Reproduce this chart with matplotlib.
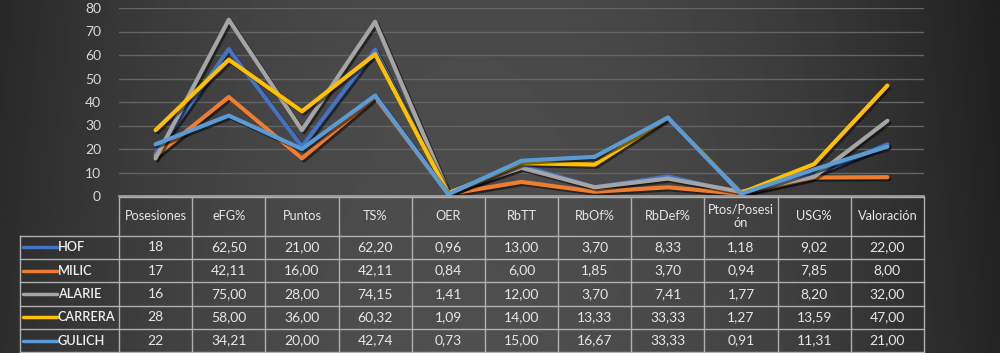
import numpy as np
import matplotlib
matplotlib.use('Agg')
from matplotlib import pyplot as plt
import matplotlib.patheffects as pe

plt.rcParams['font.family'] = ['Lato', 'DejaVu Sans']

# stats per player
categories = ['Posesiones', 'eFG%', 'Puntos', 'TS%', 'OER', 'RbTT', 'RbOf%',
              'RbDef%', 'Ptos/Posesi\nón', 'USG%', 'Valoración']
players = ['HOF', 'MILIC', 'ALARIE', 'CARRERA', 'GULICH']
hof = [18, 62.50, 21.00, 62.20, 0.96, 13.00, 3.70, 8.33, 1.18, 9.02, 22.00]
milic = [17, 42.11, 16.00, 42.11, 0.84, 6.00, 1.85, 3.70, 0.94, 7.85, 8.00]
alarie = [16, 75.00, 28.00, 74.15, 1.41, 12.00, 3.70, 7.41, 1.77, 8.20, 32.00]
carrera = [28, 58.00, 36.00, 60.32, 1.09, 14.00, 13.33, 33.33, 1.27, 13.59, 47.00]
gulich = [22, 34.21, 20.00, 42.74, 0.73, 15.00, 16.67, 33.33, 0.91, 11.31, 21.00]
series = [hof, milic, alarie, carrera, gulich]
colors = ['#4472C4', '#ED7D31', '#A5A5A5', '#FFC000', '#5B9BD5']
yticks = [0, 10, 20, 30, 40, 50, 60, 70, 80]

W, H = 1000, 353
fig = plt.figure(figsize=(10, 3.53), dpi=100)

# dark vignette background
bg = fig.add_axes([0, 0, 1, 1])
xx = np.linspace(0, 1, 400)
yy = np.linspace(0, 1, 150)
X, Y = np.meshgrid(xx, yy)
shade = 0.31 - 0.6 * (X - 0.47) ** 2 - 0.02 * Y
bg.imshow(np.clip(shade, 0.1, 1), cmap='gray', vmin=0, vmax=1,
          aspect='auto', extent=[0, 1, 0, 1], origin='lower')
bg.axis('off')

# line chart
left, right = 119 / W, 924 / W
ax = fig.add_axes([left, 1 - 196 / H, right - left, (196 - 8) / H])
ax.set_facecolor('none')
x = np.arange(len(categories))
for vals, c in zip(series, colors):
    ax.plot(x, vals, color=c, lw=3, solid_capstyle='round',
            path_effects=[pe.SimpleLineShadow(offset=(1.5, -1.5), alpha=0.5),
                          pe.Normal()])
ax.set_xlim(-0.5, len(categories) - 0.5)
ax.set_ylim(0, 80)
ax.set_yticks(yticks)
ax.set_xticks([])
ax.tick_params(axis='y', length=0, colors='#d8d8d8', labelsize=10, pad=13)
ax.grid(axis='y', color='#646464', lw=1)
ax.set_axisbelow(True)
for s in ['top', 'right', 'left']:
    ax.spines[s].set_visible(False)
ax.spines['bottom'].set_color('#a8a8a8')
ax.spines['bottom'].set_linewidth(1.2)

# data table, coordinates in pixels
tx0 = 20
colw = (924 - 119) / len(categories)
tax = fig.add_axes([0, 0, 1, 1])
tax.set_xlim(0, W)
tax.set_ylim(H, 0)
tax.axis('off')
head_top, head_bot, row_h = 196.7, 235.7, 23.3
line_c = '#b0b0b0'
txt_c = '#e6e6e6'
bottom = head_bot + row_h * len(players)
# horizontal lines
tax.plot([119, 924], [head_top, head_top], color=line_c, lw=1)
for i in range(len(players) + 1):
    yv = head_bot + i * row_h
    tax.plot([tx0, 924], [yv, yv], color=line_c, lw=1)
# vertical lines
tax.plot([tx0, tx0], [head_bot, bottom], color=line_c, lw=1)
for j in range(len(categories) + 1):
    xv = 119 + j * colw
    tax.plot([xv, xv], [head_top, bottom], color=line_c, lw=1)
# header
for j, cat in enumerate(categories):
    tax.text(119 + (j + 0.5) * colw, (head_top + head_bot) / 2, cat,
             ha='center', va='center', color=txt_c, fontsize=9.2,
             linespacing=1.1)
# rows
for i, (name, vals, c) in enumerate(zip(players, series, colors)):
    yc = head_bot + (i + 0.5) * row_h
    tax.plot([23, 57], [yc, yc], color=c, lw=2.5, solid_capstyle='round')
    tax.text(58, yc, name, ha='left', va='center', color='#f0f0f0',
             fontsize=9.2, fontweight='semibold')
    for j, v in enumerate(vals):
        s = str(int(v)) if j == 0 else f'{v:.2f}'.replace('.', ',')
        tax.text(119 + (j + 0.5) * colw, yc, s, ha='center', va='center',
                 color=txt_c, fontsize=10)

fig.savefig('out.png', dpi=100)
